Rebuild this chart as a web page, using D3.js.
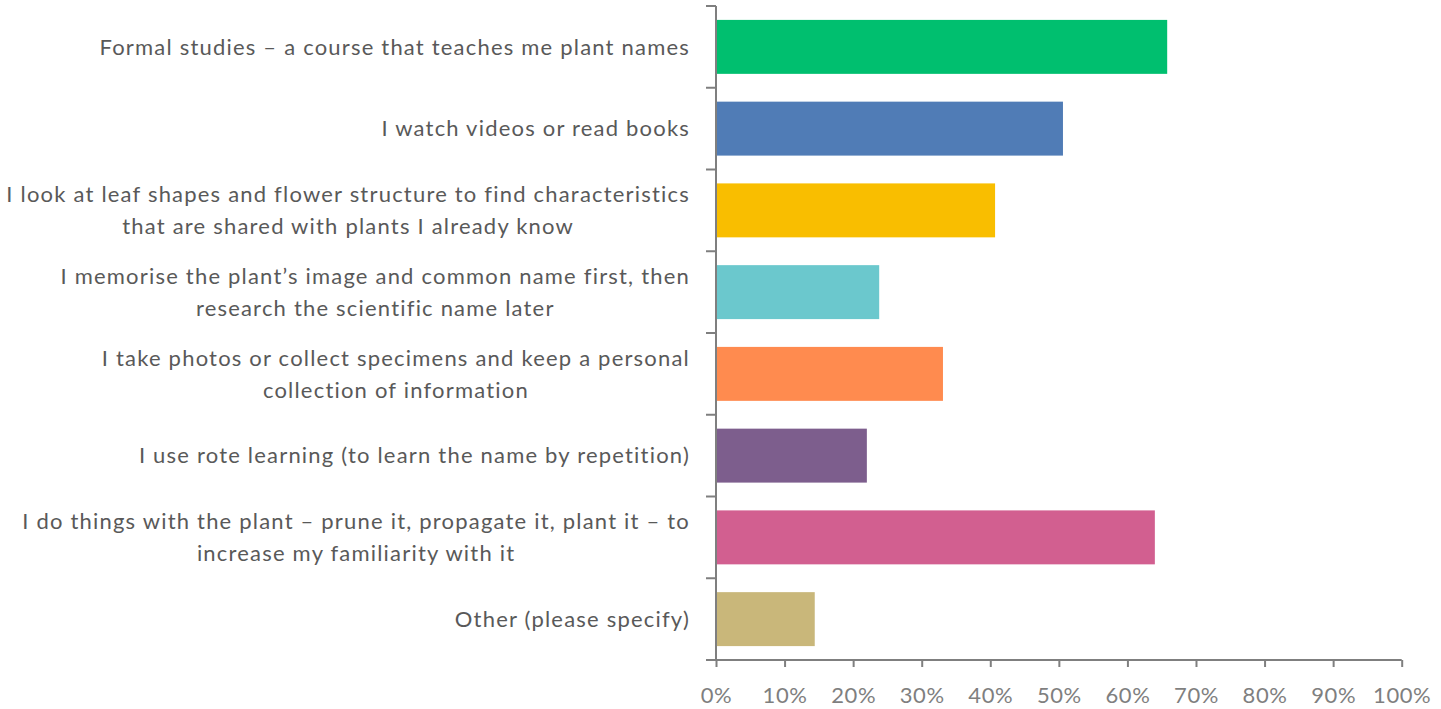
<!DOCTYPE html>
<html>
<head>
<meta charset="utf-8">
<script src="https://cdn.jsdelivr.net/npm/d3@7"></script>
<style>
  body { margin: 0; background: #fff; }
  text { font-family: Lato, "Open Sans", sans-serif; }
</style>
</head>
<body>
<div id="chart"></div>
<script>
// survey answers, top to bottom (each entry = lines of the wrapped label)
const categories = [
    ["Formal studies \u2013 a course that teaches me plant names"],
    ["I watch videos or read books"],
    ["I look at leaf shapes and flower structure to find characteristics", "that are shared with plants I already know"],
    ["I memorise the plant\u2019s image and common name first, then", "research the scientific name later"],
    ["I take photos or collect specimens and keep a personal", "collection of information"],
    ["I use rote learning (to learn the name by repetition)"],
    ["I do things with the plant \u2013 prune it, propagate it, plant it \u2013 to", "increase my familiarity with it"],
    ["Other (please specify)"],
];
const values = [65.8, 50.6, 40.7, 23.8, 33.1, 22.0, 64.0, 14.4];
const colors = ["#00BF6F", "#507CB6", "#F9BE00", "#6BC8CD", "#FF8B4F", "#7D5E8D", "#D25F90", "#C9B77A"];
const xTicks = [0, 10, 20, 30, 40, 50, 60, 70, 80, 90, 100];

const width = 1441;
const height = 709;
const margin = { top: 6, right: 40, bottom: 49, left: 716 };

const svg = d3
    .select("#chart")
    .append("svg")
    .attr("width", width)
    .attr("height", height);

const x = d3
    .scaleLinear()
    .domain([0, 100])
    .range([margin.left, margin.left + 685.7]);

const y = d3
    .scaleBand()
    .domain(d3.range(categories.length))
    .range([margin.top, height - margin.bottom])
    .paddingInner(0.34)
    .paddingOuter(0.17);

// bars
svg.append("g")
    .selectAll("rect")
    .data(values)
    .enter()
    .append("rect")
    .attr("x", x(0))
    .attr("y", (d, i) => y(i))
    .attr("width", (d) => x(d) - x(0))
    .attr("height", y.bandwidth())
    .attr("fill", (d, i) => colors[i]);

// x axis
const xAxis = svg
    .append("g")
    .attr("transform", `translate(0,${height - margin.bottom})`)
    .call(
        d3.axisBottom(x)
            .tickValues(xTicks)
            .tickFormat((d) => d + "%")
            .tickSizeInner(7)
            .tickSizeOuter(0)
            .tickPadding(20)
    );
xAxis.select(".domain").attr("stroke", "#7f7f7f").attr("stroke-width", 2)
    .attr("d", `M${x(0) - 10},0H${x(100)}`);
xAxis.selectAll(".tick line").attr("stroke", "#7f7f7f").attr("stroke-width", 2);
xAxis.selectAll(".tick text")
    .attr("fill", "#7f7f7f")
    .style("font-size", "22px")
    .style("letter-spacing", "0.6px");

// y axis line + category separators
const step = y.step();
const yAxisG = svg.append("g");
yAxisG.append("line")
    .attr("x1", x(0)).attr("x2", x(0))
    .attr("y1", margin.top).attr("y2", height - margin.bottom)
    .attr("stroke", "#7f7f7f").attr("stroke-width", 2);
yAxisG.selectAll("line.sep")
    .data(d3.range(categories.length))
    .enter()
    .append("line")
    .attr("class", "sep")
    .attr("x1", x(0) - 10).attr("x2", x(0))
    .attr("y1", (d, i) => y(i) - step * y.paddingInner() / 2)
    .attr("y2", (d, i) => y(i) - step * y.paddingInner() / 2)
    .attr("stroke", "#7f7f7f").attr("stroke-width", 2);

// category labels: block right aligned, lines centred inside the block
const labelRight = x(0) - 26;
const lineHeight = 32;
categories.forEach((lines, i) => {
    const cy = y(i) + y.bandwidth() / 2;
    const g = svg.append("g");
    const texts = lines.map((line, k) =>
        g.append("text")
            .attr("y", cy + (k - (lines.length - 1) / 2) * lineHeight)
            .attr("dy", "0.35em")
            .attr("fill", "#595959")
            .style("font-size", "22px")
            .style("letter-spacing", "1.2px")
            .attr("text-anchor", "middle")
            .text(line)
    );
    const blockW = d3.max(texts, (t) => t.node().getComputedTextLength());
    texts.forEach((t) => t.attr("x", labelRight - blockW / 2));
});
</script>
</body>
</html>
